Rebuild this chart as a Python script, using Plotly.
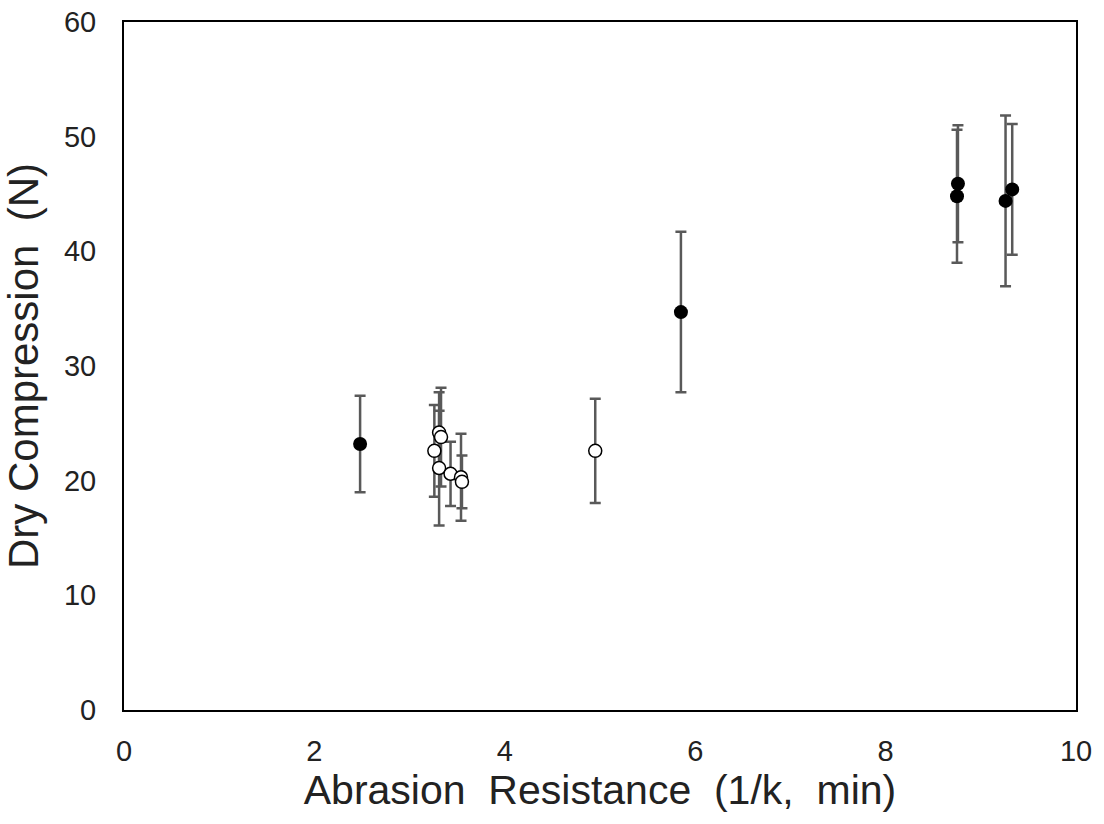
import plotly.graph_objects as go

# Filled (black) series
filled_x = [2.48, 5.85, 8.76, 8.75, 9.26, 9.33]
filled_y = [23.2, 34.7, 45.9, 44.8, 44.4, 45.4]
filled_err = [4.2, 7.0, 5.1, 5.8, 7.45, 5.7]

# Open (white) series
open_x = [3.31, 3.33, 3.26, 3.31, 3.43, 3.54, 3.55, 4.95]
open_y = [24.2, 23.8, 22.6, 21.1, 20.6, 20.3, 19.9, 22.6]
open_err = [3.5, 4.3, 4.0, 5.0, 2.8, 3.8, 2.3, 4.55]

x_ticks = [0, 2, 4, 6, 8, 10]
y_ticks = [0, 10, 20, 30, 40, 50, 60]

x_title = "Abrasion  Resistance  (1/k,  min)"
y_title = "Dry Compression  (N)"

err_style = dict(type="data", visible=True, color="#595959", thickness=2.5, width=5.5)

fig = go.Figure()
fig.add_trace(go.Scatter(
    x=open_x, y=open_y, mode="markers",
    error_y=dict(array=open_err, **err_style),
    marker=dict(size=13, color="white", line=dict(color="black", width=1.5)),
    showlegend=False,
))
fig.add_trace(go.Scatter(
    x=filled_x, y=filled_y, mode="markers",
    error_y=dict(array=filled_err, **err_style),
    marker=dict(size=14, color="black", line=dict(color="black", width=0)),
    showlegend=False,
))

fig.update_layout(
    width=1104, height=824,
    margin=dict(l=124, r=28, t=22, b=114),
    paper_bgcolor="white", plot_bgcolor="white",
    font=dict(family="Liberation Sans, Arial, sans-serif", color="#222222"),
    xaxis=dict(
        range=[0, 10], tickvals=x_ticks, automargin=False,
        showgrid=False, zeroline=False, showline=True, linecolor="black",
        linewidth=2, mirror=True, ticks="outside", ticklen=14,
        tickcolor="rgba(0,0,0,0)", tickfont=dict(size=29),
        title=dict(text=x_title, font=dict(size=41), standoff=6),
    ),
    yaxis=dict(
        range=[0, 60], tickvals=y_ticks, automargin=False,
        showgrid=False, zeroline=False, showline=True, linecolor="black",
        linewidth=2, mirror=True, ticks="outside", ticklen=20,
        tickcolor="rgba(0,0,0,0)", tickfont=dict(size=29),
        title=dict(text=y_title, font=dict(size=42), standoff=14),
    ),
)

fig.write_html("out.html")
